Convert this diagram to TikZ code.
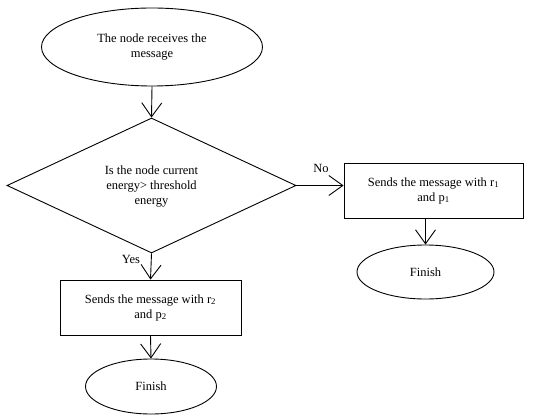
\documentclass[tikz,border=0pt]{standalone}
\usepackage{fontspec}
\setmainfont{Liberation Serif}
\usetikzlibrary{shapes.geometric,arrows.meta}
\begin{document}
\begin{tikzpicture}[x=1pt,y=-1pt,
  every node/.style={font=\fontsize{12.5}{15}\selectfont, inner sep=0pt, align=center},
  ellnode/.style={draw, ellipse, line width=0.9pt},
  boxnode/.style={draw, rectangle, line width=0.9pt},
  decnode/.style={draw, diamond, line width=0.9pt},
  flow/.style={line width=0.9pt, -{Straight Barb[length=14pt,width=20pt,line width=0.9pt]}},
  lbl/.style={font=\fontsize{12.5}{15}\selectfont}]
\useasboundingbox (0,0) rectangle (534,414);
\node[ellnode, minimum width=221pt, minimum height=78pt] (start) at (152,47) {The node receives the\\message};
\node[decnode, minimum width=289pt, minimum height=135pt, shape aspect=2.15] (dec) at (151.5,185.5) {};
\node (dectext) at (151.5,187) {Is the node current\\energy> threshold\\energy};
\node[boxnode, minimum width=181pt, minimum height=55pt] (yesbox) at (150.5,307.5) {Sends the message with r\textsubscript{2}\\and p\textsubscript{2}};
\node[ellnode, minimum width=131pt, minimum height=55pt] (fin1) at (151,386.5) {Finish};
\node[boxnode, minimum width=179pt, minimum height=55pt] (nobox) at (433.5,190.5) {Sends the message with r\textsubscript{1}\\and p\textsubscript{1}};
\node[ellnode, minimum width=137pt, minimum height=54pt] (fin2) at (425.5,272) {Finish};
\node[lbl] (no) at (321,168) {No};
\node[lbl] (yes) at (131,259) {Yes};
\draw[flow] (start.south) -- (dec.north);
\draw[flow] (dec.south) -- (yesbox.north);
\draw[flow] (yesbox.south) -- (fin1.north);
\draw[flow] (dec.east) -- (nobox.west |- dec.east);
\draw[flow] (fin2.north |- nobox.south) -- (fin2.north);
\end{tikzpicture}
\end{document}
